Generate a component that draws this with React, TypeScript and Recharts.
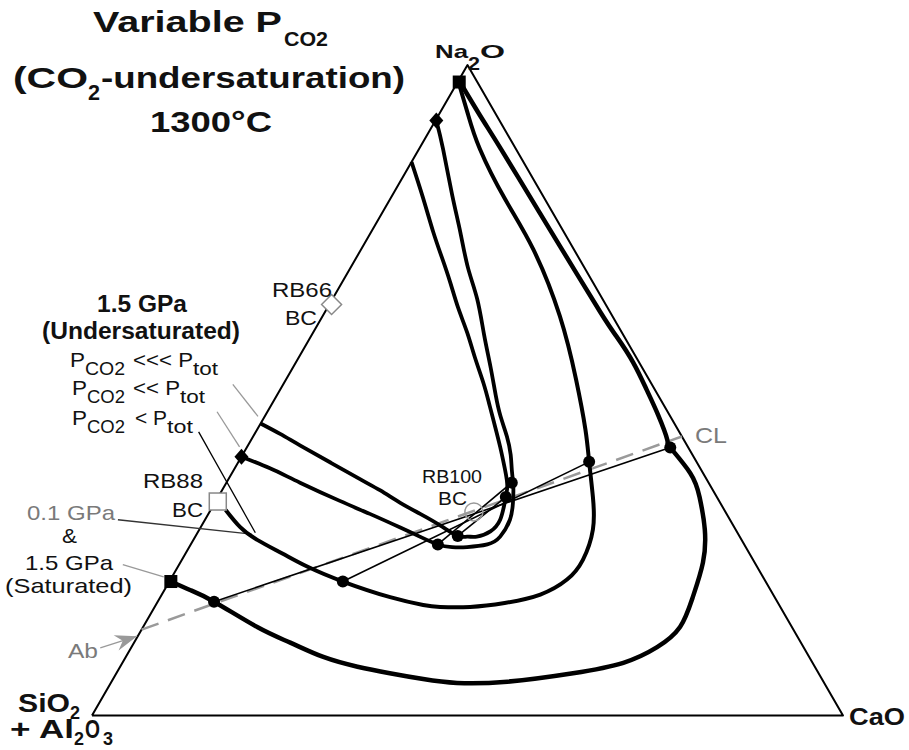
import { ComposedChart, Line, Scatter, XAxis, YAxis } from 'recharts';

// every point is a melt composition [Na2O, CaO] in wt%, SiO2+Al2O3 is the rest
type Comp = [number, number];

const triangleEdges: Comp[] = [[0, 0], [0, 100], [100, 0], [0, 0]];

// 0.1 GPa & 1.5 GPa (saturated)
const liquidusSaturated: Comp[] = [
  [97.1, 0.6], [92.3, 5.5], [87.4, 10.6], [79.7, 18.5], [72.1, 26.3], [62.0, 36.7],
  [58.1, 40.9], [54.3, 44.9], [50.1, 48.8], [46.3, 52.2], [42.4, 55.4], [41.2, 56.4],
  [37.3, 61.0], [33.6, 64.1], [28.6, 67.3], [23.5, 69.6], [18.2, 70.9], [13.6, 71.5],
  [10.5, 70.0], [8.1, 66.7], [6.5, 60.8], [5.2, 52.7], [5.0, 46.1], [5.6, 41.3],
  [6.5, 36.4], [7.5, 31.6], [9.0, 26.3], [11.2, 20.8], [13.6, 15.2], [17.5, 7.5],
  [19.3, 3.4], [20.6, 0.2],
];

// PCO2 < Ptot
const liquidusLess: Comp[] = [
  [96.6, 0.7], [92.5, 3.8], [87.1, 8.1], [79.4, 15.3], [71.7, 22.9], [61.4, 31.6],
  [51.7, 38.6], [44.0, 43.7], [39.0, 46.7], [33.6, 49.9], [28.6, 52.4], [23.9, 53.4],
  [20.9, 52.8], [18.6, 50.4], [17.3, 46.3], [16.7, 42.0], [16.7, 38.0], [17.0, 35.6],
  [18.2, 30.6], [20.6, 23.1], [22.9, 17.2], [24.9, 12.9], [27.0, 8.5], [29.0, 5.2],
  [31.6, 2.0],
];

// PCO2 << Ptot
const liquidusMuchLess: Comp[] = [
  [91.5, 0.1], [87.1, 3.2], [80.1, 7.9], [74.3, 11.9], [68.9, 15.6], [64.0, 19.3],
  [58.6, 22.9], [53.7, 26.2], [49.3, 29.1], [46.0, 31.4], [42.9, 33.8], [40.1, 35.7],
  [37.8, 37.0], [35.2, 38.5], [32.7, 39.7], [30.1, 40.6], [27.5, 40.6], [26.3, 39.5],
  [25.9, 37.0], [25.9, 35.0], [26.3, 32.9], [27.5, 29.9], [28.9, 26.6], [31.0, 21.5],
  [33.0, 16.5], [35.8, 9.8], [38.0, 4.7], [39.8, 0.0],
];

// PCO2 <<< Ptot
const liquidusLeast: Comp[] = [
  [85.1, 0.0], [79.7, 4.2], [74.3, 8.3], [70.4, 11.4], [66.6, 14.4], [62.7, 17.4],
  [58.9, 20.5], [55.0, 23.5], [51.2, 26.5], [48.1, 28.8], [45.2, 30.9], [41.3, 33.7],
  [37.8, 36.1], [35.2, 37.7], [32.7, 38.6], [30.1, 39.3], [28.3, 38.9], [27.5, 37.5],
  [27.5, 36.2], [27.6, 34.9], [29.2, 31.8], [31.0, 28.2], [32.7, 24.7], [34.6, 21.1],
  [36.3, 17.6], [38.9, 12.3], [41.5, 7.0], [43.3, 3.4], [44.9, 0.0],
];

const tieSaturated: Comp[] = [[17.5, 7.5], [41.2, 56.4]];
const tieLess: Comp[] = [[20.6, 23.1], [39.0, 46.7]];
const tieMuchLess: Comp[] = [[26.3, 32.9], [35.8, 38.0]];
const tieLeast: Comp[] = [[27.6, 34.9], [33.6, 38.3]];

const abClJoin: Comp[] = [[13.2, 0.0], [42.9, 57.1]];

const junctionDots: Comp[] = [
  [17.5, 7.5], [20.6, 23.1], [26.3, 32.9], [27.6, 34.9],
  [35.8, 38.0], [33.6, 38.3], [39.0, 46.7], [41.2, 56.4],
];
const squaresBlack: Comp[] = [[97.4, 0.2], [20.6, 0.2]];
const diamondsBlack: Comp[] = [[91.5, 0.1], [39.8, 0.0]];
const rb66: Comp[] = [[63.2, 0.3]];
const rb88: Comp[] = [[32.9, 0.3]];
const rb100: Comp[] = [[31.3, 35.2]];

// label leader lines
const leaderLeast: Comp[] = [[50.9, -6.7], [46.0, -0.9]];
const leaderMuchLess: Comp[] = [[46.7, -6.7], [41.3, -1.0]];
const leaderLess: Comp[] = [[43.6, -7.6], [28.1, 7.7]];
const leaderLowP: Comp[] = [[30.1, -11.6], [27.9, 7.3]];
const leaderSat: Comp[] = [[23.2, -7.5], [21.3, -1.1]];
const abArrow: Comp[] = [[10.4, -4.1], [12.2, -0.1]];
const abArrowTip: Comp[] = [[12.2, -0.1]];

const toXY = (pts: Comp[]) =>
  pts.map(([na, ca]) => ({ x: ca + na / 2, y: (na * Math.sqrt(3)) / 2 }));

const W = 909;
const H = 750;
const FONT = '"Liberation Sans", Arial, Helvetica, sans-serif';
const GREY = '#7a7a7a';

type Lbl = { t: string; x: number; y: number; w: number; s: number; b?: boolean; c?: string };

const labels: Lbl[] = [
  { t: 'Variable P', x: 93, y: 32, w: 189, s: 30, b: true },
  { t: 'CO2', x: 284, y: 46, w: 44, s: 21, b: true },
  { t: '(CO', x: 13, y: 88, w: 75, s: 30, b: true },
  { t: '2', x: 88, y: 100, w: 12, s: 22, b: true },
  { t: '-undersaturation)', x: 101, y: 88, w: 304, s: 30, b: true },
  { t: '1300°C', x: 150, y: 132, w: 122, s: 30, b: true },
  { t: 'Na', x: 435, y: 58, w: 33, s: 19, b: true },
  { t: '2', x: 468, y: 70, w: 12, s: 18, b: true },
  { t: 'O', x: 480, y: 58, w: 25, s: 19, b: true },
  { t: 'CaO', x: 849, y: 725, w: 56, s: 23, b: true },
  { t: 'SiO', x: 18, y: 712, w: 52, s: 25, b: true },
  { t: '2', x: 70, y: 719, w: 10, s: 18, b: true },
  { t: '+ Al', x: 10, y: 738, w: 64, s: 25, b: true },
  { t: '2', x: 74, y: 745, w: 10, s: 18, b: true },
  { t: 'O', x: 85, y: 738, w: 15, s: 25, b: true },
  { t: '3', x: 103, y: 745, w: 10, s: 18, b: true },
  { t: '1.5 GPa', x: 97, y: 312, w: 90, s: 23, b: true },
  { t: '(Undersaturated)', x: 42, y: 339, w: 198, s: 23, b: true },
  { t: 'P', x: 70, y: 367, w: 15, s: 21 },
  { t: 'CO2', x: 85, y: 375, w: 40, s: 18 },
  { t: '<<< P', x: 133, y: 367, w: 60, s: 21 },
  { t: 'tot', x: 193, y: 375, w: 25, s: 18 },
  { t: 'P', x: 72, y: 395, w: 15, s: 21 },
  { t: 'CO2', x: 87, y: 403, w: 38, s: 18 },
  { t: '<< P', x: 133, y: 395, w: 47, s: 21 },
  { t: 'tot', x: 180, y: 403, w: 25, s: 18 },
  { t: 'P', x: 72, y: 425, w: 15, s: 21 },
  { t: 'CO2', x: 87, y: 433, w: 38, s: 18 },
  { t: '< P', x: 135, y: 425, w: 32, s: 21 },
  { t: 'tot', x: 167, y: 433, w: 26, s: 18 },
  { t: 'RB66', x: 272, y: 297, w: 60, s: 21 },
  { t: 'BC', x: 285, y: 325, w: 32, s: 21 },
  { t: 'RB88', x: 143, y: 488, w: 60, s: 21 },
  { t: 'BC', x: 172, y: 517, w: 31, s: 21 },
  { t: 'RB100', x: 422, y: 483, w: 60, s: 19 },
  { t: 'BC', x: 438, y: 505, w: 29, s: 19 },
  { t: '0.1 GPa', x: 27, y: 520, w: 88, s: 21, c: GREY },
  { t: '&', x: 62, y: 543, w: 15, s: 21 },
  { t: '1.5 GPa', x: 25, y: 570, w: 88, s: 21 },
  { t: '(Saturated)', x: 5, y: 593, w: 127, s: 21 },
  { t: 'Ab', x: 68, y: 658, w: 30, s: 21, c: GREY },
  { t: 'CL', x: 695, y: 443, w: 32, s: 22, c: GREY },
];

const dotShape = (p: any) => <circle cx={p.cx} cy={p.cy} r={6} fill="#000" />;
const squareShape = (p: any) => <rect x={p.cx - 6.5} y={p.cy - 6.5} width={13} height={13} fill="#000" />;
const diamondShape = (p: any) => (
  <polygon points={`${p.cx},${p.cy - 8} ${p.cx + 7},${p.cy} ${p.cx},${p.cy + 8} ${p.cx - 7},${p.cy}`} fill="#000" />
);
const openDiamond = (p: any) => (
  <polygon
    points={`${p.cx},${p.cy - 10} ${p.cx + 10},${p.cy} ${p.cx},${p.cy + 10} ${p.cx - 10},${p.cy}`}
    fill="#fff" stroke="#888" strokeWidth={1.5}
  />
);
const openSquare = (p: any) => (
  <rect x={p.cx - 8.5} y={p.cy - 8.5} width={17} height={17} fill="#fff" stroke="#888" strokeWidth={1.5} />
);
const openCircle = (p: any) => <circle cx={p.cx} cy={p.cy} r={9} fill="none" stroke="#999" strokeWidth={1.5} />;
const arrowHead = (p: any) => (
  <polygon
    points="0,0 -22,-8 -15,0 -22,8"
    fill="#999"
    transform={`translate(${p.cx},${p.cy}) rotate(-18)`}
  />
);

const seg = (data: Comp[], color: string, width: number, type: 'linear' | 'natural' = 'linear', dash?: string) => (
  <Line
    data={toXY(data)}
    dataKey="y"
    type={type}
    stroke={color}
    strokeWidth={width}
    strokeDasharray={dash}
    dot={false}
    activeDot={false}
    isAnimationActive={false}
    strokeLinecap="butt"
    strokeLinejoin="round"
  />
);

export default function App() {
  return (
    <div style={{ position: 'absolute', left: 0, top: 0, width: W, height: H, background: '#fff' }}>
      <ComposedChart width={W} height={H} margin={{ top: 0, right: 0, bottom: 0, left: 0 }}>
        <XAxis type="number" dataKey="x" domain={[-12.25, 108.79]} allowDataOverflow hide />
        <YAxis type="number" dataKey="y" domain={[-4.594, 95.273]} allowDataOverflow hide />
        {seg(triangleEdges, '#000', 2)}
        {seg(abClJoin, '#9a9a9a', 2.5, 'linear', '18 10')}
        {seg(tieSaturated, '#000', 1.6)}
        {seg(tieLess, '#000', 1.6)}
        {seg(tieMuchLess, '#000', 1.6)}
        {seg(tieLeast, '#000', 1.6)}
        {seg(leaderLeast, '#999', 1.3)}
        {seg(leaderMuchLess, '#999', 1.3)}
        {seg(leaderLess, '#000', 1.3)}
        {seg(leaderLowP, '#333', 1.3)}
        {seg(leaderSat, '#999', 1.3)}
        {seg(abArrow, '#999', 1.3)}
        {seg(liquidusSaturated, '#000', 4.5, 'natural')}
        {seg(liquidusLess, '#000', 4, 'natural')}
        {seg(liquidusMuchLess, '#000', 3.8, 'natural')}
        {seg(liquidusLeast, '#000', 3.8, 'natural')}
        <Scatter data={toXY(junctionDots)} shape={dotShape} isAnimationActive={false} />
        <Scatter data={toXY(squaresBlack)} shape={squareShape} isAnimationActive={false} />
        <Scatter data={toXY(diamondsBlack)} shape={diamondShape} isAnimationActive={false} />
        <Scatter data={toXY(rb66)} shape={openDiamond} isAnimationActive={false} />
        <Scatter data={toXY(rb88)} shape={openSquare} isAnimationActive={false} />
        <Scatter data={toXY(rb100)} shape={openCircle} isAnimationActive={false} />
        <Scatter data={toXY(abArrowTip)} shape={arrowHead} isAnimationActive={false} />
      </ComposedChart>
      <svg
        width={W}
        height={H}
        style={{ position: 'absolute', left: 0, top: 0, pointerEvents: 'none' }}
        fontFamily={FONT}
      >
        {labels.map((l, i) => (
          <text
            key={i}
            x={l.x}
            y={l.y}
            fontSize={l.s}
            fontWeight={l.b ? 700 : 400}
            fill={l.c ?? '#111'}
            textLength={l.w}
            lengthAdjust="spacingAndGlyphs"
          >
            {l.t}
          </text>
        ))}
      </svg>
    </div>
  );
}
